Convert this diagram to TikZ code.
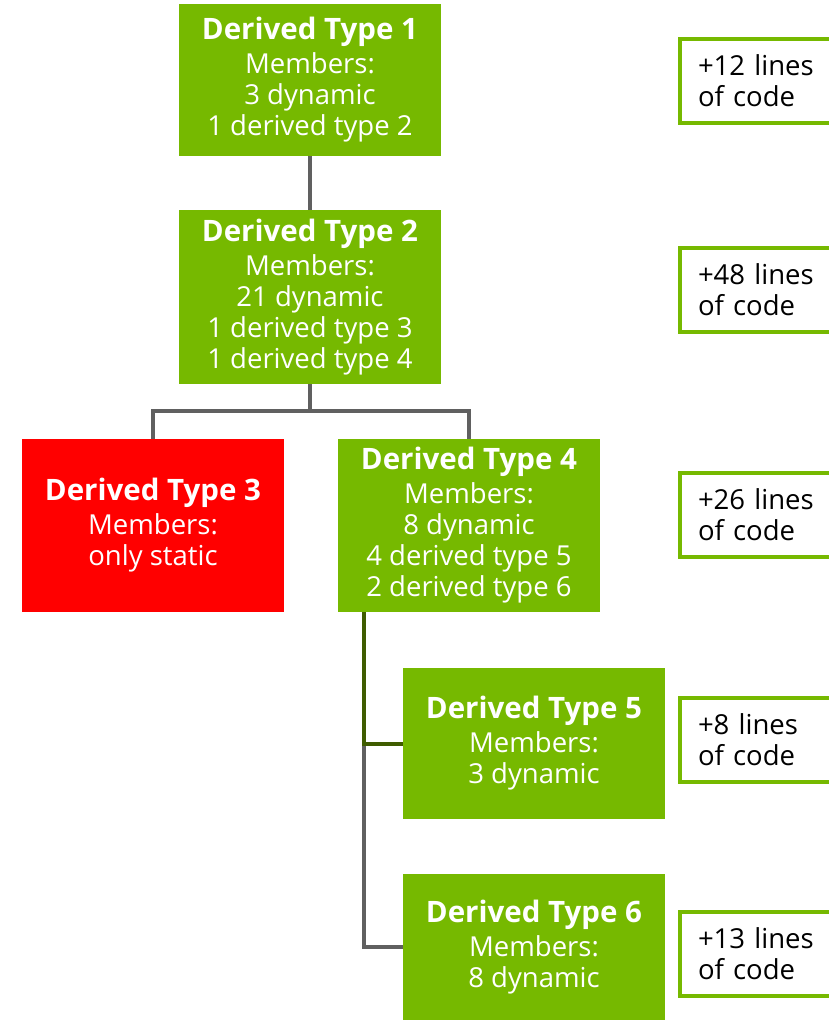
\documentclass[tikz,border=0pt]{standalone}
\usepackage{fontspec}
\setmainfont{Open Sans}
\usetikzlibrary{positioning,calc}
\definecolor{nvgreen}{HTML}{76B900}
\definecolor{alertred}{HTML}{FF0000}
\definecolor{linkgray}{HTML}{606060}
\definecolor{darkgreen}{HTML}{3F5C00}
\tikzset{
  typebox/.style={fill=nvgreen, text=white, align=center, inner sep=0pt,
    minimum width=262pt, font=\fontsize{27.5}{31}\selectfont},
  redbox/.style={typebox, fill=alertred},
  locbox/.style={draw=nvgreen, line width=4pt, fill=white, align=left,
    minimum width=172pt, minimum height=84pt, text width=136pt,
    font=\fontsize{27.5}{31}\selectfont},
  link/.style={draw=linkgray, line width=4pt},
  sublink/.style={draw=darkgreen, line width=4pt}
}
\newcommand{\ttl}[1]{{\bfseries\fontsize{29.5}{33}\selectfont #1}\\[3pt]}

\begin{document}
\begin{tikzpicture}[x=1pt, y=-1pt]
    \useasboundingbox (0,0) rectangle (828,1022);
    % type tree
    \node[typebox, minimum height=152pt] (dt1) at (310,80)
      {\ttl{Derived Type 1}Members:\\3 dynamic\\1 derived type 2};
    \node[typebox, minimum height=174pt] (dt2) at (310,297)
      {\ttl{Derived Type 2}Members:\\21 dynamic\\1 derived type 3\\1 derived type 4};
    \node[redbox, minimum height=173pt] (dt3) at (153,525.5)
      {\ttl{Derived Type 3}Members:\\only static};
    \node[typebox, minimum height=173pt] (dt4) at (469,525.5)
      {\ttl{Derived Type 4}Members:\\8 dynamic\\4 derived type 5\\2 derived type 6};
    \node[typebox, minimum height=151pt] (dt5) at (534,743.5)
      {\ttl{Derived Type 5}Members:\\3 dynamic};
    \node[typebox, minimum height=146pt] (dt6) at (534,947)
      {\ttl{Derived Type 6}Members:\\8 dynamic};
    % lines of code
    \node[locbox] (loc1) at (766,81) {+12 lines\\of code};
    \node[locbox] (loc2) at (766,290) {+48 lines\\of code};
    \node[locbox] (loc4) at (766,515) {+26 lines\\of code};
    \node[locbox] (loc5) at (766,740) {+8 lines\\of code};
    \node[locbox] (loc6) at (766,954) {+13 lines\\of code};
    % connectors
    \draw[link] (dt1.south) -- (dt2.north);
    \coordinate (split) at ($(dt2.south)+(0,27)$);
    \draw[link] (dt2.south) -- (split) -| (dt3.north);
    \draw[link] (split) -| (dt4.north);
    \coordinate (j5) at ([xshift=26pt]dt4.south west |- dt5.west);
    \draw[link] (j5) |- (dt6.west);
    \draw[sublink] ([xshift=26pt]dt4.south west) |- (dt5.west);
\end{tikzpicture}
\end{document}
